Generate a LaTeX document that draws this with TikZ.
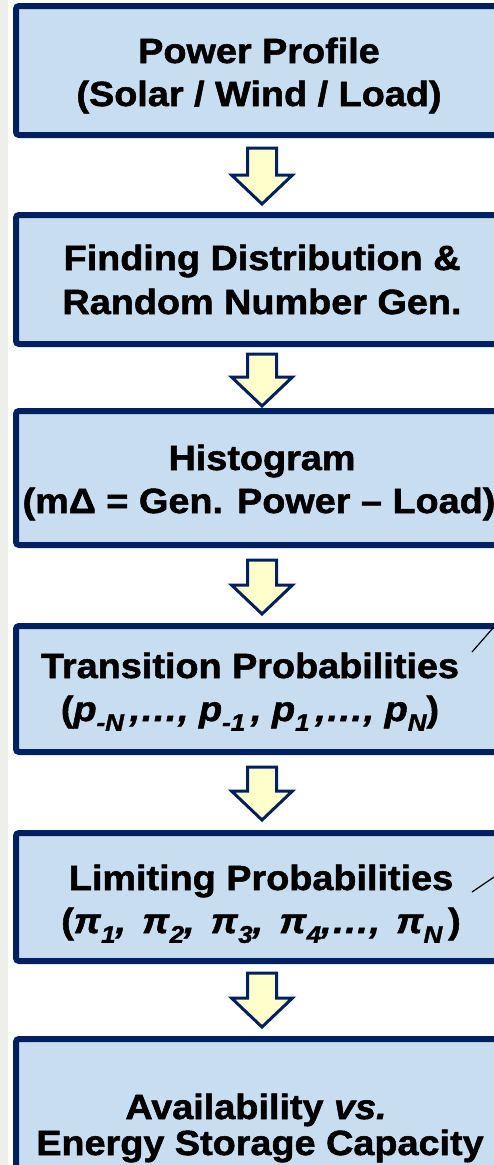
\documentclass[tikz,border=0pt]{standalone}
\usepackage{fontspec}
\setmainfont{Liberation Sans}[FakeStretch=1.08, BoldFeatures={FakeBold=1.5}, BoldItalicFeatures={FakeBold=1.5}]
\usetikzlibrary{calc}
\definecolor{navy}{RGB}{0,32,96}
\definecolor{boxblue}{RGB}{200,221,240}
\definecolor{paleyel}{RGB}{255,255,204}
\definecolor{stripgray}{RGB}{238,238,234}
\newcommand\sbs[1]{\raisebox{-0.28em}{\fontsize{24}{24}\selectfont\itshape #1}}
\newcommand\blockarrow[4]{%
  \draw[blk] let \p1=([yshift=-#3pt]#1.south), \p2=([yshift=#4pt]#2.north) in
    (\x1-14.5pt,\y1) -- (\x1+14.5pt,\y1) -- (\x1+14.5pt,\y2+29pt) -- (\x1+30.5pt,\y2+29pt)
    -- (\x1,\y2) -- (\x1-30.5pt,\y2+29pt) -- (\x1-14.5pt,\y2+29pt) -- cycle;}
\begin{document}
\begin{tikzpicture}[x=1pt,y=1pt,
  box/.style={draw=navy, line width=6pt, fill=boxblue, rounded corners=3pt,
    minimum width=492pt, inner sep=0pt},
  txt/.style={anchor=base, inner sep=0pt, font=\fontsize{35}{43}\selectfont\bfseries},
  blk/.style={draw=navy, line width=3pt, fill=paleyel, line join=miter},
  lead/.style={draw=black, line width=1.2pt}]
\useasboundingbox (0,0) rectangle (494,-1165);
\clip (0,0) rectangle (494,-1165);
\fill[white] (0,0) rectangle (494,-1165);
\fill[stripgray] (0,0) rectangle (8,-1165);

\node[box, minimum height=129pt] (b1) at (262,-70.5) {};
\node[box, minimum height=129pt] (b2) at (262,-279.5) {};
\node[box, minimum height=134pt] (b3) at (262,-478) {};
\node[box, minimum height=126pt] (b4) at (262,-689) {};
\node[box, minimum height=128pt] (b5) at (262,-897) {};
\node[box, minimum height=161pt] (b6) at (262,-1119.5) {};

\node[txt] (t1a) at (259,-63) {Power Profile};
\node[txt] (t1b) at (259,-106) {(Solar / Wind / Load)};
\node[txt] (t2a) at (262,-270) {Finding Distribution \&};
\node[txt] (t2b) at (262,-314) {Random Number Gen.};
\node[txt] (t3a) at (262,-470) {Histogram};
\node[txt] (t3b) at (259,-513) {(mΔ = Gen. Power – Load)};
\node[txt] (t4a) at (250,-678) {Transition Probabilities};
\node[txt] (t4b) at (250,-721) {(\textit{p}\sbs{-N}\,\textit{,…,} \textit{p}\sbs{-1}\,\textit{,} \textit{p}\sbs{1}\,\textit{,…,} \textit{p}\sbs{N})};
\node[txt] (t5a) at (261,-890) {Limiting Probabilities};
\node[txt] (t5b) at (261,-933) {(\textit{π}\sbs{1}\textit{,\, π}\sbs{2}\textit{,\, π}\sbs{3}\textit{,\, π}\sbs{4}\textit{,…,\, π}\sbs{N}\,)};
\node[txt] (t6a) at (256,-1119) {Availability \textit{vs.}};
\node[txt] (t6b) at (260,-1155) {Energy Storage Capacity};

\blockarrow{b1}{b2}{10}{8}
\blockarrow{b2}{b3}{7}{2}
\blockarrow{b3}{b4}{12}{9}
\blockarrow{b4}{b5}{12}{10}
\blockarrow{b5}{b6}{9}{9}

\coordinate (l1a) at (472,-652);
\coordinate (l1b) at (500,-620);
\coordinate (l2a) at (472,-892);
\coordinate (l2b) at (500,-873);
\draw[lead] (l1a) -- (l1b);
\draw[lead] (l2a) -- (l2b);
\end{tikzpicture}
\end{document}
